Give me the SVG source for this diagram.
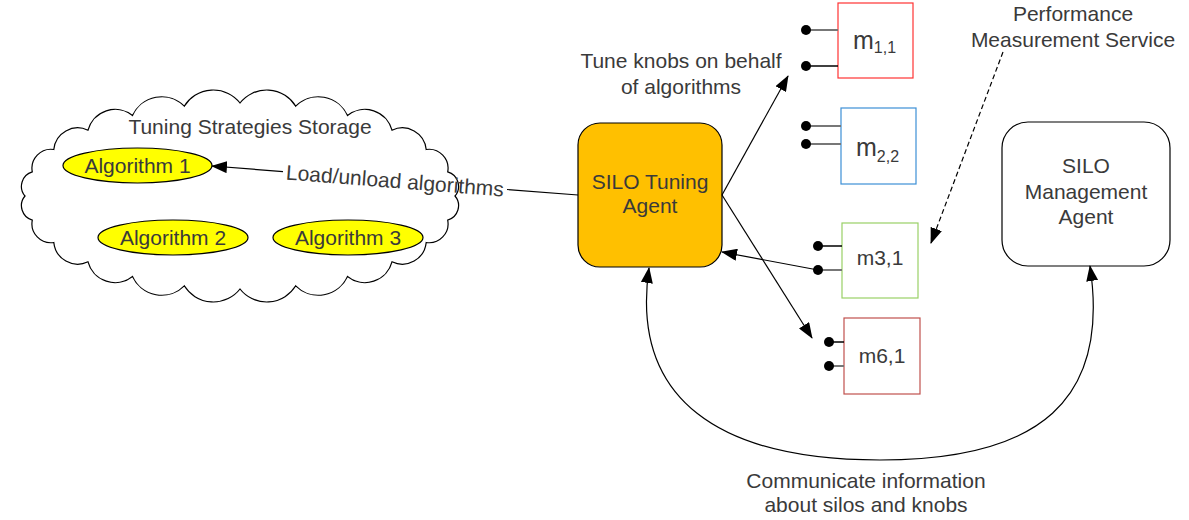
<svg xmlns="http://www.w3.org/2000/svg" width="1189" height="520" viewBox="0 0 1189 520">
<style>
text{font-family:"Liberation Sans",Arial,sans-serif;font-size:21px;fill:#3a3a3a}
.c{text-anchor:middle}
.ln{fill:none;stroke:#000;stroke-width:1.2}
.pin{stroke:#000;stroke-width:1.5}
.pg{stroke:#777;stroke-width:2}
.dot{fill:#000}
.alg{fill:#ffff00;stroke:#000;stroke-width:1.2}
</style>
<defs>
<marker id="ah" markerUnits="userSpaceOnUse" markerWidth="16" markerHeight="12" refX="15" refY="6" orient="auto-start-reverse" viewBox="0 0 16 12">
<path d="M0,0 L16,6 L0,12 z" fill="#000"/>
</marker>
</defs>
<rect width="1189" height="520" fill="#fff"/>

<g id="storage">
<path fill="#fff" stroke="#000" stroke-width="1.2" d="M455,196 A15,15 0 0 1 447.7,220.1 A19,19 0 0 1 426.2,242.5 A24,24 0 0 1 392,261.8 A28,28 0 0 1 347.5,276.5 A32,32 0 0 1 295.7,285.8 A34,34 0 0 1 240,289 A34,34 0 0 1 184.3,285.8 A32,32 0 0 1 132.5,276.5 A28,28 0 0 1 88,261.8 A24,24 0 0 1 53.8,242.5 A19,19 0 0 1 32.3,220.1 A15,15 0 0 1 25,196 A15,15 0 0 1 32.3,171.9 A19,19 0 0 1 53.8,149.5 A24,24 0 0 1 88,130.2 A28,28 0 0 1 132.5,115.5 A32,32 0 0 1 184.3,106.2 A34,34 0 0 1 240,103 A34,34 0 0 1 295.7,106.2 A32,32 0 0 1 347.5,115.5 A28,28 0 0 1 392,130.2 A24,24 0 0 1 426.2,149.5 A19,19 0 0 1 447.7,171.9 A15,15 0 0 1 455,196 z"/>
<text class="c" x="250" y="134">Tuning Strategies Storage</text>
</g>

<g id="alg1">
<ellipse class="alg" cx="137.5" cy="165.5" rx="74.5" ry="17.5"/>
<text class="c" x="137.5" y="172.5">Algorithm 1</text>
</g>
<g id="alg2">
<ellipse class="alg" cx="173" cy="237.5" rx="75" ry="17.5"/>
<text class="c" x="173" y="244.5">Algorithm 2</text>
</g>
<g id="alg3">
<ellipse class="alg" cx="348" cy="237.5" rx="75" ry="17.5"/>
<text class="c" x="348" y="244.5">Algorithm 3</text>
</g>

<g id="tuning-agent">
<rect x="578" y="123" width="144" height="144" rx="22" fill="#ffc000" stroke="#000" stroke-width="1.2"/>
<text class="c" x="650" y="189">SILO Tuning</text>
<text class="c" x="650" y="213">Agent</text>
</g>

<g id="mgmt-agent">
<rect x="1002" y="122" width="168" height="144" rx="26" fill="#fff" stroke="#000" stroke-width="1.2"/>
<text class="c" x="1086" y="173">SILO</text>
<text class="c" x="1086" y="199">Management</text>
<text class="c" x="1086" y="224">Agent</text>
</g>

<g id="m11">
<rect x="838" y="3" width="75" height="75" fill="#fff" stroke="#ff3333" stroke-width="1.2"/>
<line class="pg" x1="806" y1="30" x2="838" y2="30"/>
<line class="pin" x1="806" y1="66" x2="838" y2="66"/>
<circle class="dot" cx="806" cy="30" r="5"/>
<circle class="dot" cx="806" cy="66" r="5"/>
<text x="853" y="49" style="font-size:25px">m<tspan dy="4" style="font-size:16px">1,1</tspan></text>
</g>

<g id="m22">
<rect x="841" y="108" width="75" height="76" fill="#fff" stroke="#3c8fd6" stroke-width="1.2"/>
<line class="pg" x1="806" y1="126" x2="841" y2="126"/>
<line class="pg" x1="806" y1="144" x2="841" y2="144"/>
<circle class="dot" cx="806" cy="126" r="5"/>
<circle class="dot" cx="806" cy="144" r="5"/>
<text x="856" y="156" style="font-size:25px">m<tspan dy="6" style="font-size:16px">2,2</tspan></text>
</g>

<g id="m31">
<rect x="842" y="223" width="76" height="75" fill="#fff" stroke="#99d066" stroke-width="1.2"/>
<line class="pin" x1="818" y1="246" x2="842" y2="246"/>
<line class="pg" x1="818" y1="270" x2="842" y2="270"/>
<circle class="dot" cx="818" cy="246" r="5"/>
<circle class="dot" cx="818" cy="270" r="5"/>
<text class="c" x="880" y="265">m3,1</text>
</g>

<g id="m61">
<rect x="844" y="318" width="76" height="76" fill="#fff" stroke="#c0504d" stroke-width="1.2"/>
<line class="pin" x1="829" y1="342" x2="844" y2="342"/>
<line class="pg" x1="829" y1="366" x2="844" y2="366"/>
<circle class="dot" cx="829" cy="342" r="5"/>
<circle class="dot" cx="829" cy="366" r="5"/>
<text class="c" x="882" y="363">m6,1</text>
</g>

<g id="connectors">
<line class="ln" x1="283" y1="171.6" x2="212" y2="166" marker-end="url(#ah)"/>
<line class="ln" x1="507" y1="189.5" x2="578" y2="195"/>
<text class="c" x="395" y="188" transform="rotate(4.5 395 180.5)">Load/unload algorithms</text>
<line class="ln" x1="722" y1="195" x2="788" y2="76" marker-end="url(#ah)"/>
<line class="ln" x1="722" y1="195" x2="812" y2="338" marker-end="url(#ah)"/>
<line class="ln" x1="818" y1="270" x2="722" y2="252" marker-end="url(#ah)"/>
<line class="ln" x1="1003" y1="52" x2="931" y2="243" stroke-dasharray="5,3" marker-end="url(#ah)"/>
<path class="ln" d="M649,268 C630,400 720,460 880,460 C1040,460 1110,400 1090,266" marker-start="url(#ah)" marker-end="url(#ah)"/>
<text class="c" x="681" y="68">Tune knobs on behalf</text>
<text class="c" x="681" y="94">of algorithms</text>
<text class="c" x="1073" y="21">Performance</text>
<text class="c" x="1073" y="47">Measurement Service</text>
<text class="c" x="866" y="488">Communicate information</text>
<text class="c" x="866" y="512">about silos and knobs</text>
</g>
</svg>
